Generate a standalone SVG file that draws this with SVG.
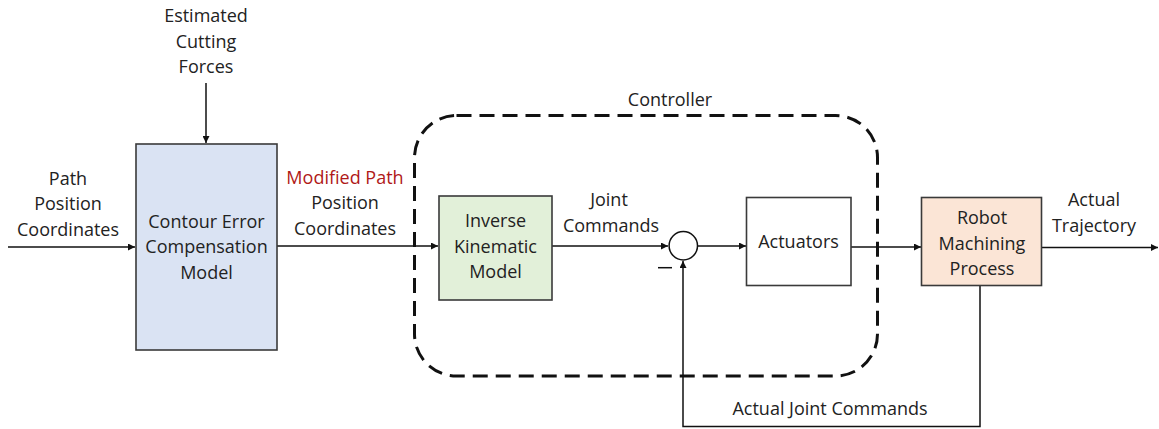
<svg xmlns="http://www.w3.org/2000/svg" width="1159" height="429" viewBox="0 0 1159 429">
  <style>
    text { font-family: "Open Sans", "Liberation Sans", sans-serif; font-size: 18px; fill: #222; text-anchor: middle; }
    .box { stroke: #3a3a3a; stroke-width: 1.6; }
    .wire { stroke: #111; stroke-width: 1.5; fill: none; }
    .red { fill: #b01818; }
  </style>
  <defs>
    <marker id="arrow" viewBox="0 0 10 10" refX="10" refY="5" markerWidth="9" markerHeight="7" markerUnits="userSpaceOnUse" orient="auto">
      <path d="M0,0 L10,5 L0,10 z" fill="#111"/>
    </marker>
  </defs>

  <rect width="1159" height="429" fill="#fff"/>

  <!-- controller boundary -->
  <g id="controller">
    <rect x="414.5" y="115.5" width="463" height="260.5" rx="42" ry="42" fill="none" stroke="#111" stroke-width="3" stroke-dasharray="15 8"/>
    <text x="670" y="106">Controller</text>
  </g>

  <!-- connectors -->
  <g id="connectors">
    <line class="wire" x1="8" y1="247" x2="135" y2="247" marker-end="url(#arrow)"/>
    <line class="wire" x1="206" y1="83" x2="206" y2="143" marker-end="url(#arrow)"/>
    <line class="wire" x1="277" y1="246" x2="438" y2="246" marker-end="url(#arrow)"/>
    <line class="wire" x1="552" y1="246" x2="668" y2="246" marker-end="url(#arrow)"/>
    <line class="wire" x1="698" y1="246" x2="746" y2="246" marker-end="url(#arrow)"/>
    <line class="wire" x1="851" y1="247" x2="921" y2="247" marker-end="url(#arrow)"/>
    <line class="wire" x1="1042" y1="247.5" x2="1158" y2="247.5" marker-end="url(#arrow)"/>
    <polyline class="wire" points="980,286 980,426.5 683,426.5 683,261" marker-end="url(#arrow)"/>
  </g>

  <!-- inputs and signal labels -->
  <g id="labels">
    <text x="206" y="22">Estimated</text>
    <text x="206" y="47.5">Cutting</text>
    <text x="206" y="73">Forces</text>
    <text x="68" y="185">Path</text>
    <text x="68" y="210">Position</text>
    <text x="68" y="235.5">Coordinates</text>
    <text x="345" y="183.5" class="red">Modified Path</text>
    <text x="345" y="209">Position</text>
    <text x="345" y="235">Coordinates</text>
    <text x="609" y="206">Joint</text>
    <text x="611" y="231.5">Commands</text>
    <text x="1094" y="206">Actual</text>
    <text x="1094" y="231.5">Trajectory</text>
    <text x="830" y="415">Actual Joint Commands</text>
  </g>

  <g id="contour-error-model">
    <rect class="box" x="136" y="144" width="141" height="206" fill="#dae3f3"/>
    <text x="206.5" y="227.5">Contour Error</text>
    <text x="206.5" y="253">Compensation</text>
    <text x="206.5" y="278.5">Model</text>
  </g>

  <g id="inverse-kinematic-model">
    <rect class="box" x="439" y="196" width="113" height="104" fill="#e2f0d9"/>
    <text x="495.5" y="226.5">Inverse</text>
    <text x="495.5" y="252.5">Kinematic</text>
    <text x="495.5" y="278">Model</text>
  </g>

  <g id="summing-junction">
    <circle cx="683.3" cy="245.7" r="14.2" fill="#fff" stroke="#111" stroke-width="1.5"/>
    <line x1="658" y1="267.7" x2="672" y2="267.7" stroke="#111" stroke-width="1.5"/>
  </g>

  <g id="actuators">
    <rect class="box" x="746.5" y="197.5" width="104.5" height="88" fill="#fff"/>
    <text x="798.5" y="248">Actuators</text>
  </g>

  <g id="robot-machining-process">
    <rect class="box" x="921.5" y="197.5" width="120" height="88" fill="#fbe5d6"/>
    <text x="982" y="224">Robot</text>
    <text x="982" y="250">Machining</text>
    <text x="982" y="275">Process</text>
  </g>
</svg>
